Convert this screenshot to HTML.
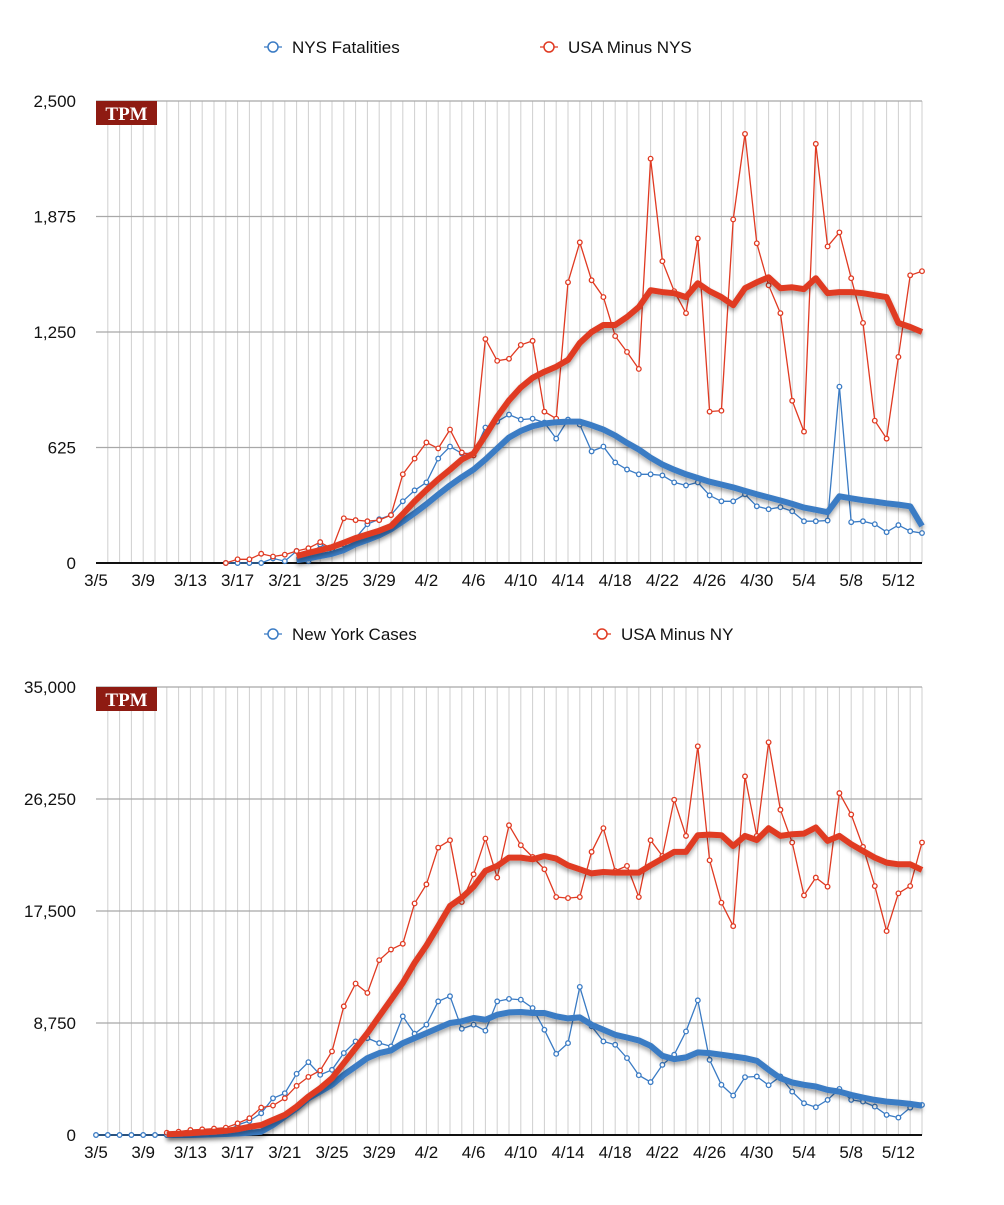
<!DOCTYPE html>
<html><head><meta charset="utf-8"><style>
body{margin:0;background:#fff;font-family:"Liberation Sans",sans-serif;}
svg text{font-family:"Liberation Sans",sans-serif;}
</style></head><body>
<svg id="chart" width="1004" height="1200" viewBox="0 0 1004 1200" xmlns="http://www.w3.org/2000/svg">
<defs><filter id="sh" x="-5%" y="-20%" width="110%" height="140%"><feGaussianBlur in="SourceAlpha" stdDeviation="2"/><feOffset dy="3" result="b"/><feFlood flood-color="#000" flood-opacity="0.35"/><feComposite in2="b" operator="in"/><feMerge><feMergeNode/><feMergeNode in="SourceGraphic"/></feMerge></filter></defs>
</svg>
<script>
const dateLabels=["3/5","3/9","3/13","3/17","3/21","3/25","3/29","4/2","4/6","4/10","4/14","4/18","4/22","4/26","4/30","5/4","5/8","5/12"];
const topTicks=[0,625,1250,1875,2500];
const topTickLabels=["0","625","1,250","1,875","2,500"];
const botTicks=[0,8750,17500,26250,35000];
const botTickLabels=["0","8,750","17,500","26,250","35,000"];
// top chart, day index 0 = 3/5 ; null = no data
const nysFatal=[null,null,null,null,null,null,null,null,null,null,null,0,0,0,0,25,10,65,10,100,75,100,135,210,237,260,334,393,436,565,630,593,593,733,765,803,776,781,760,673,776,749,604,630,544,506,480,480,474,436,420,436,366,334,334,372,307,291,302,280,226,226,230,954,221,226,210,167,205,172,162];
const nysFatalAvg=[null,null,null,null,null,null,null,null,null,null,null,null,null,null,null,null,null,15,25,38,50,70,102,125,150,183,225,270,318,370,420,465,506,560,620,679,715,740,755,762,765,765,745,722,690,650,614,570,533,505,480,460,440,425,409,390,372,355,338,320,300,288,275,361,350,340,332,323,316,307,200];
const usaFatal=[null,null,null,null,null,null,null,null,null,null,null,0,20,20,50,35,45,65,80,113,75,242,232,226,232,259,480,565,652,620,722,598,582,1212,1094,1105,1180,1202,819,781,1519,1735,1530,1439,1228,1142,1050,2188,1633,1471,1352,1756,819,824,1859,2322,1730,1503,1352,878,711,2268,1713,1789,1541,1299,770,673,1115,1557,1579];
const usaFatalAvg=[null,null,null,null,null,null,null,null,null,null,null,null,null,null,null,null,null,38,55,70,86,110,135,155,175,200,265,334,395,453,505,560,593,690,792,880,950,1002,1035,1062,1099,1191,1250,1288,1288,1331,1385,1476,1466,1460,1439,1514,1471,1439,1395,1487,1519,1546,1487,1492,1482,1541,1460,1466,1466,1460,1449,1439,1299,1277,1250];
// bottom chart
const nyCases=[0,0,0,0,0,0,0,0,0,50,100,200,780,1100,1700,2870,3260,4780,5690,4700,5090,6400,7310,7570,7180,6920,9270,7910,8620,10440,10840,8300,8620,8150,10440,10630,10570,9920,8220,6340,7180,11570,8490,7310,7050,6010,4670,4130,5480,6270,8090,10520,5870,3920,3080,4520,4570,3890,4570,3390,2480,2170,2740,3600,2740,2610,2220,1570,1360,2140,2350];
const nyCasesAvg=[null,null,null,null,null,null,0,0,0,20,50,80,120,180,260,780,1440,2090,2870,3390,3920,4700,5350,6010,6400,6610,7180,7570,7960,8360,8750,8880,9140,9010,9400,9580,9610,9530,9530,9270,9110,9190,8620,8220,7830,7620,7390,6970,6190,5930,6060,6450,6400,6270,6140,6010,5800,5090,4440,4100,3920,3790,3520,3390,3130,2920,2740,2610,2530,2430,2300];
const usaCases=[null,null,null,null,null,null,180,260,390,440,500,570,910,1310,2140,2300,2870,3840,4540,5040,6530,10050,11830,11100,13660,14490,14940,18090,19580,22450,23030,18200,20370,23160,20110,24200,22640,21720,20760,18590,18510,18590,22120,23970,20630,21020,18590,23030,21800,26190,23370,30370,21460,18150,16320,28020,23370,30680,25410,22850,18720,20110,19400,26710,25040,22510,19450,15930,18880,19450,22850];
const usaCasesAvg=[null,null,null,null,null,null,60,100,150,200,260,330,450,640,780,1180,1570,2220,3000,3660,4440,5610,6790,7960,9270,10570,11880,13450,14800,16320,17890,18540,19400,20630,21020,21670,21670,21540,21800,21590,21070,20760,20440,20550,20500,20500,20500,21070,21590,22120,22120,23420,23470,23420,22580,23370,23050,23970,23370,23500,23550,24020,22980,23370,22720,22190,21670,21280,21150,21150,20710];

const NS="http://www.w3.org/2000/svg";
const svg=document.getElementById('chart');
const BLUE="#3a7bc4",RED="#e03a22";
function mk(tag,attrs,parent){const e=document.createElementNS(NS,tag);for(const k in attrs)e.setAttribute(k,attrs[k]);(parent||svg).appendChild(e);return e;}
const X0=96,DX=11.8,NDAYS=71,XR=922;
function xs(d){return X0+d*DX;}

function drawChart(cfg){
  const g=mk('g',{});
  
  
  const ys=v=>cfg.y0-(v/cfg.max)*(cfg.y0-cfg.yTop);
  // vertical day grid
  for(let d=1;d<NDAYS;d++){const l=mk('line',{x1:xs(d),x2:xs(d),y1:cfg.yTop,y2:cfg.y0,stroke:"#cfcfcf","stroke-width":1},g);
    }
  const rl=mk('line',{x1:XR,x2:XR,y1:cfg.yTop,y2:cfg.y0,stroke:"#cfcfcf","stroke-width":1},g);
  
  cfg.ticks.forEach((t,i)=>{
    if(t>0){const l=mk('line',{x1:X0,x2:XR,y1:ys(t),y2:ys(t),stroke:"#a8a8a8","stroke-width":1.3},g);
      }
    const tx=mk('text',{x:76,y:ys(t)+6,"text-anchor":"end","font-size":17,fill:"#111"},g);
    tx.textContent=cfg.tickLabels[i];
    
  });
  const ax=mk('line',{x1:X0,x2:XR,y1:cfg.y0,y2:cfg.y0,stroke:"#111","stroke-width":2},g);
  
  dateLabels.forEach((lab,i)=>{
    const tx=mk('text',{x:xs(i*4),y:cfg.y0+23,"text-anchor":"middle","font-size":17,fill:"#111"},g);
    tx.textContent=lab;
    
  });
  // badge
  const b=mk('g',{},g);
  
  mk('rect',{x:X0,y:cfg.yTop,width:61,height:24,fill:"#8e1b12"},b);
  const bt=mk('text',{x:X0+30.5,y:cfg.yTop+19,"text-anchor":"middle","font-size":19,"font-weight":"bold",fill:"#fff","font-family":"Liberation Serif, serif"},b);
  bt.setAttribute('style','font-family:"Liberation Serif",serif');
  bt.textContent="TPM";
  function path(arr){let s="",pen=false;arr.forEach((v,d)=>{if(v==null){pen=false;return;}s+=(pen?"L":"M")+xs(d).toFixed(1)+" "+ys(v).toFixed(1);pen=true;});return s;}
  cfg.series.forEach(se=>{
    if(se.thick){
      const p=mk('path',{d:path(se.data),fill:"none",stroke:se.color,"stroke-width":6,"stroke-linejoin":"round",filter:"url(#sh)"},g);
      
    }else{
      const sg=mk('g',{},g);
      
      mk('path',{d:path(se.data),fill:"none",stroke:se.color,"stroke-width":1.3},sg);
      se.data.forEach((v,d)=>{if(v==null)return;
        const c=mk('circle',{cx:xs(d),cy:ys(v),r:2.3,fill:"#fff",stroke:se.color,"stroke-width":1.3},sg);
        });
    }
  });
  // legend
  cfg.legend.forEach(l=>{
    const lg=mk('g',{},g);
    
    mk('line',{x1:l.x-9,x2:l.x+9,y1:l.y,y2:l.y,stroke:l.color,"stroke-width":1.3},lg);
    mk('circle',{cx:l.x,cy:l.y,r:5,fill:"#fff",stroke:l.color,"stroke-width":1.5},lg);
    const t=mk('text',{x:l.x+19,y:l.y+6,"font-size":17,fill:"#111"},lg);t.textContent=l.text;
  });
}
drawChart({name:'fatalities-chart',yTop:101,y0:563,max:2500,ticks:topTicks,tickLabels:topTickLabels,
  series:[{name:'nys-fatalities-line',data:nysFatal,color:BLUE},{name:'usa-minus-nys-line',data:usaFatal,color:RED},
  {name:'nys-fatalities-average',data:nysFatalAvg,color:BLUE,thick:true},{name:'usa-minus-nys-average',data:usaFatalAvg,color:RED,thick:true}],
  legend:[{x:273,y:47,color:BLUE,text:"NYS Fatalities"},{x:549,y:47,color:RED,text:"USA Minus NYS"}]});
drawChart({name:'cases-chart',yTop:687,y0:1135,max:35000,ticks:botTicks,tickLabels:botTickLabels,
  series:[{name:'new-york-cases-line',data:nyCases,color:BLUE},{name:'usa-minus-ny-line',data:usaCases,color:RED},
  {name:'new-york-cases-average',data:nyCasesAvg,color:BLUE,thick:true},{name:'usa-minus-ny-average',data:usaCasesAvg,color:RED,thick:true}],
  legend:[{x:273,y:634,color:BLUE,text:"New York Cases"},{x:602,y:634,color:RED,text:"USA Minus NY"}]});
</script>
</body></html>
